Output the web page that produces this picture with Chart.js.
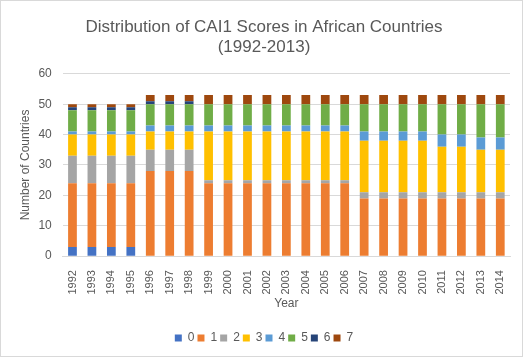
<!DOCTYPE html>
<html><head><meta charset="utf-8">
<script src="https://cdn.jsdelivr.net/npm/chart.js@4.4.0/dist/chart.umd.min.js"></script>
<style>
html,body{margin:0;padding:0;background:#fff;}
#wrap{position:relative;width:521px;height:355px;border:1px solid #D9D9D9;}
</style></head>
<body><div id="wrap"><canvas id="c" width="521" height="355"></canvas></div>
<script>
const years = ['1992','1993','1994','1995','1996','1997','1998','1999','2000','2001','2002','2003','2004','2005','2006','2007','2008','2009','2010','2011','2012','2013','2014'];
const s0 = [3,3,3,3,0,0,0,0,0,0,0,0,0,0,0,0,0,0,0,0,0,0,0];
const s1 = [21,21,21,21,28,28,28,24,24,24,24,24,24,24,24,19,19,19,19,19,19,19,19];
const s2 = [9,9,9,9,7,7,7,1,1,1,1,1,1,1,1,2,2,2,2,2,2,2,2];
const s3 = [7,7,7,7,6,6,6,16,16,16,16,16,16,16,16,17,17,17,17,15,15,14,14];
const s4 = [1,1,1,1,2,2,2,2,2,2,2,2,2,2,2,3,3,3,3,4,4,4,4];
const s5 = [7,7,7,7,7,7,7,7,7,7,7,7,7,7,7,9,9,9,9,10,10,11,11];
const s6 = [1,1,1,1,1,1,1,0,0,0,0,0,0,0,0,0,0,0,0,0,0,0,0];
const s7 = [1,1,1,1,2,2,2,3,3,3,3,3,3,3,3,3,3,3,3,3,3,3,3];
const seriesNames = ['0','1','2','3','4','5','6','7'];
const seriesData = [s0,s1,s2,s3,s4,s5,s6,s7];
const colors = ['#4472C4','#ED7D31','#A5A5A5','#FFC000','#5B9BD5','#70AD47','#264478','#9E480E'];
const yTicks = [0,10,20,30,40,50,60];
const gray = '#595959';
const font = 'Liberation Sans, Arial, sans-serif';

new Chart(document.getElementById('c'), {
  type: 'bar',
  data: {
    labels: years,
    datasets: seriesNames.map((n,i)=>({label:n,data:seriesData[i],backgroundColor:colors[i],borderWidth:0,barPercentage:0.45,categoryPercentage:1}))
  },
  options: {
    responsive:false, animation:false,
    layout:{padding:{left:17,right:12,top:14,bottom:2}},
    plugins:{
      title:{display:true,text:['Distribution of CAI1 Scores in African Countries','(1992-2013)'],color:gray,font:{family:font,size:17,weight:'normal'},padding:{top:2,bottom:16},lineHeight:1.25},
      legend:{position:'bottom',labels:{color:gray,font:{family:font,size:12},boxWidth:7,boxHeight:7,padding:3}},
      tooltip:{enabled:false}
    },
    scales:{
      x:{stacked:true,grid:{display:false},border:{color:'#D9D9D9'},
        ticks:{color:gray,font:{family:font,size:11},maxRotation:90,minRotation:90,autoSkip:false,padding:6},
        title:{display:true,text:'Year',color:gray,font:{family:font,size:12},padding:{top:-4,bottom:18}}},
      y:{stacked:true,min:0,max:60,afterBuildTicks:ax=>{ax.ticks=yTicks.map(v=>({value:v}));},
        grid:{color:'#D9D9D9',drawTicks:false},border:{display:false},
        ticks:{color:gray,font:{family:font,size:12},padding:11},
        title:{display:true,text:'Number of Countries',color:gray,font:{family:font,size:12},padding:{top:0,bottom:-5}}}
    }
  }
});
</script></body></html>
